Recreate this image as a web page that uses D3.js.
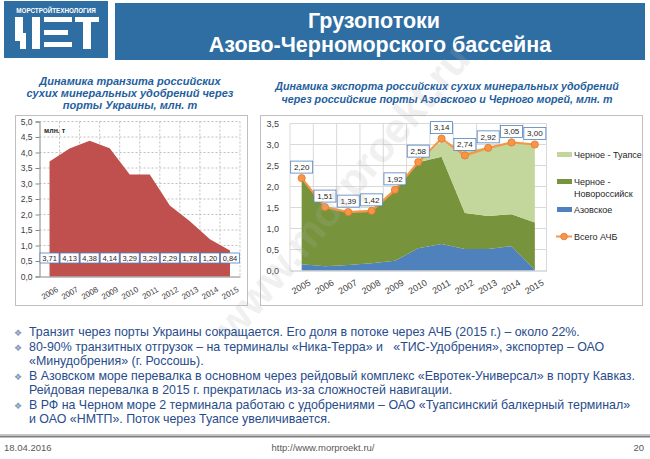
<!DOCTYPE html>
<html>
<head>
<meta charset="utf-8">
<script src="https://cdn.jsdelivr.net/npm/d3@7"></script>
<style>
  body { margin: 0; background: #fff; }
  svg { display: block; font-family: "Liberation Sans", Arial, sans-serif; }
  .tick text { fill: #404040; }
</style>
</head>
<body>
<svg id="slide" width="650" height="459"></svg>
<script>
// left chart: transit through Ukraine
const transitYears = ["2006", "2007", "2008", "2009", "2010", "2011", "2012", "2013", "2014", "2015"];
const transitValues = [3.71, 4.13, 4.38, 4.14, 3.29, 3.29, 2.29, 1.78, 1.20, 0.84];

// right chart: export through Azov / Black sea ports
const exportYears = ["2005", "2006", "2007", "2008", "2009", "2010", "2011", "2012", "2013", "2014", "2015"];
const azovValues = [0.15, 0.10, 0.13, 0.17, 0.23, 0.53, 0.63, 0.51, 0.51, 0.58, 0.02];
const novorossValues = [2.05, 1.41, 1.26, 1.25, 1.69, 2.05, 2.08, 0.86, 0.79, 0.76, 1.12];
const tuapseValues = [0, 0, 0, 0, 0, 0, 0.37, 1.50, 1.62, 1.71, 1.86];
const totalValues = [2.20, 1.51, 1.39, 1.42, 1.92, 2.58, 3.14, 2.74, 2.92, 3.05, 3.00];

const seriesNames = ["Черное - Туапсе", "Черное - Новороссийск", "Азовское", "Всего АЧБ"];
const seriesColors = { azov: "#4f81bd", nov: "#77933c", tuapse: "#c3d69b", total: "#f79646" };

const bullets = [
  ["Транзит через порты Украины сокращается. Его доля в потоке через АЧБ (2015 г.) – около 22%."],
  ["80-90% транзитных отгрузок – на терминалы «Ника-Терра» и   «ТИС-Удобрения», экспортер – ОАО",
   "«Минудобрения» (г. Россошь)."],
  ["В Азовском море перевалка в основном через рейдовый комплекс «Евротек-Универсал» в порту Кавказ.",
   "Рейдовая перевалка в 2015 г. прекратилась из-за сложностей навигации."],
  ["В РФ на Черном море 2 терминала работаю с удобрениями – ОАО «Туапсинский балкерный терминал»",
   "и ОАО «НМТП». Поток через Туапсе увеличивается."]
];

const ru = d3.formatLocale({ decimal: ",", thousands: " ", grouping: [3], currency: ["", ""] });
const f1 = ru.format(".1f");
const f2 = ru.format(".2f");

const svg = d3.select("#slide");

// ---------- header ----------
svg.append("rect").attr("x", 4).attr("y", 1).attr("width", 104).attr("height", 57).attr("fill", "#2f6ea3");
svg.append("text").attr("x", 56).attr("y", 12.5).attr("text-anchor", "middle")
  .attr("fill", "#fff").attr("font-size", 6.3).attr("font-weight", "bold").text("МОРСТРОЙТЕХНОЛОГИЯ");
// stylised logo letters
const logoBars = [[15, 17, 8, 24], [20, 33, 6, 16], [32, 17, 8, 32], [44, 17, 28, 5], [44, 30, 24, 5], [44, 42, 28, 5], [75, 17, 24, 5], [83, 22, 8, 27]];
svg.append("g").selectAll("rect").data(logoBars).join("rect")
  .attr("x", d => d[0]).attr("y", d => d[1]).attr("width", d => d[2]).attr("height", d => d[3])
  .attr("fill", "#fff");

svg.append("rect").attr("x", 115).attr("y", 3).attr("width", 530).attr("height", 57).attr("fill", "#2f6ea3");
svg.append("text").attr("x", 374).attr("y", 28).attr("text-anchor", "middle")
  .attr("fill", "#fff").attr("font-size", 21.5).attr("font-weight", "bold").text("Грузопотоки");
svg.append("text").attr("x", 380).attr("y", 52).attr("text-anchor", "middle")
  .attr("fill", "#fff").attr("font-size", 21.5).attr("font-weight", "bold").text("Азово-Черноморского бассейна");

// ---------- chart titles ----------
const titleColor = "#1f5f9e";
const leftTitle = ["Динамика транзита российских", "сухих минеральных удобрений через", "порты Украины, млн. т"];
svg.append("g").selectAll("text").data(leftTitle).join("text")
  .attr("x", 130).attr("y", (d, i) => 85 + i * 12)
  .attr("text-anchor", "middle").attr("font-size", 11).attr("font-style", "italic").attr("font-weight", "bold")
  .attr("fill", titleColor).text(d => d);

const rightTitle = ["Динамика экспорта российских сухих минеральных удобрений", "через российские порты Азовского и Черного морей, млн. т"];
svg.append("g").selectAll("text").data(rightTitle).join("text")
  .attr("x", 447).attr("y", (d, i) => 90 + i * 13)
  .attr("text-anchor", "middle").attr("font-size", 10.7).attr("font-style", "italic").attr("font-weight", "bold")
  .attr("fill", titleColor).text(d => d);

// ---------- left chart ----------
svg.append("rect").attr("x", 15.5).attr("y", 115.5).attr("width", 232).attr("height", 190)
  .attr("fill", "#fff").attr("stroke", "#bfbfbf");

const xL = d3.scaleBand().domain(transitYears).range([39.5, 240]);
const yL = d3.scaleLinear().domain([0, 5]).range([276.5, 121.5]);
const yTicksL = d3.range(0, 5.01, 0.5);

const gridL = svg.append("g").attr("stroke", "#bfbfbf").attr("stroke-dasharray", "2,2");
gridL.selectAll("line.h").data(yTicksL.slice(1)).join("line").attr("class", "h")
  .attr("x1", 39.5).attr("x2", 240).attr("y1", d => yL(d)).attr("y2", d => yL(d));
gridL.selectAll("line.v").data(transitYears.slice(1).map(d => xL(d)).concat([240])).join("line").attr("class", "v")
  .attr("x1", d => d).attr("x2", d => d).attr("y1", 121.5).attr("y2", 276.5);

const areaL = d3.area()
  .x((d, i) => xL(transitYears[i]) + xL.bandwidth() / 2)
  .y0(yL(0)).y1(d => yL(d));
svg.append("path").datum(transitValues).attr("d", areaL).attr("fill", "#c0504d");

const axisLeftL = svg.append("g").attr("transform", "translate(39.5,0)")
  .call(d3.axisLeft(yL).tickValues(yTicksL).tickFormat(f1).tickSize(4).tickPadding(3));
axisLeftL.selectAll("line, path").attr("stroke", "#868686");
axisLeftL.selectAll("text").attr("font-size", 8.5);

const axisBottomL = svg.append("g").attr("transform", "translate(0,276.5)")
  .call(d3.axisBottom(xL).tickSize(0).tickFormat(d => d));
axisBottomL.select("path").attr("stroke", "#868686");
axisBottomL.selectAll("text")
  .attr("font-size", 8).attr("text-anchor", "end")
  .attr("transform", "translate(5,7) rotate(-30)").attr("dy", "0.7em");

svg.append("text").attr("x", 44).attr("y", 133).attr("font-size", 7).attr("font-weight", "bold")
  .attr("fill", "#262626").text("млн. т");

const labelsL = svg.append("g").selectAll("g").data(transitValues).join("g")
  .attr("transform", (d, i) => `translate(${xL(transitYears[i]) + xL.bandwidth() / 2},258)`);
labelsL.append("rect").attr("x", -9.5).attr("y", -5).attr("width", 19).attr("height", 10)
  .attr("fill", "#fff").attr("stroke", "#4f81bd").attr("stroke-width", 0.8);
labelsL.append("text").attr("text-anchor", "middle").attr("dy", "0.35em")
  .attr("font-size", 7.5).attr("fill", "#262626").text(d => f2(d));

// ---------- right chart ----------
svg.append("rect").attr("x", 260.5).attr("y", 115.5).attr("width", 382).attr("height", 190)
  .attr("fill", "#fff").attr("stroke", "#bfbfbf");

const xR = d3.scaleBand().domain(exportYears).range([290, 546.5]);
const yR = d3.scaleLinear().domain([0, 3.5]).range([270.5, 123.5]);
const yTicksR = d3.range(0, 3.51, 0.5);
const cx = d => xR(d) + xR.bandwidth() / 2;

const gridR = svg.append("g").attr("stroke", "#d9d9d9");
gridR.selectAll("line.h").data(yTicksR.slice(1)).join("line").attr("class", "h")
  .attr("x1", 290).attr("x2", 546.5).attr("y1", d => yR(d)).attr("y2", d => yR(d));
gridR.selectAll("line.v").data(exportYears.map(d => xR(d)).concat([546.5])).join("line").attr("class", "v")
  .attr("x1", d => d).attr("x2", d => d).attr("y1", 123.5).attr("y2", 270.5);

const table = exportYears.map((y, i) => ({ year: y, azov: azovValues[i], nov: novorossValues[i], tuapse: tuapseValues[i] }));
const stacked = d3.stack().keys(["azov", "nov", "tuapse"])(table);
const areaR = d3.area().x(d => cx(d.data.year)).y0(d => yR(d[0])).y1(d => yR(d[1]));
svg.append("g").selectAll("path").data(stacked).join("path")
  .attr("d", areaR).attr("fill", d => seriesColors[d.key]);

const axisLeftR = svg.append("g").attr("transform", "translate(290,0)")
  .call(d3.axisLeft(yR).tickValues(yTicksR).tickFormat(f1).tickSize(0).tickPadding(11));
axisLeftR.select("path").remove();
axisLeftR.selectAll("text").attr("font-size", 9);

const axisBottomR = svg.append("g").attr("transform", "translate(0,270.5)")
  .call(d3.axisBottom(xR).tickSize(0));
axisBottomR.select("path").attr("stroke", "#bfbfbf");
axisBottomR.selectAll("text")
  .attr("font-size", 9).attr("text-anchor", "end")
  .attr("transform", "translate(5,6) rotate(-30)").attr("dy", "0.7em");

const lineR = d3.line().x((d, i) => cx(exportYears[i])).y(d => yR(d));
svg.append("path").datum(totalValues).attr("d", lineR)
  .attr("fill", "none").attr("stroke", seriesColors.total).attr("stroke-width", 2.2);
svg.append("g").selectAll("circle").data(totalValues).join("circle")
  .attr("cx", (d, i) => cx(exportYears[i])).attr("cy", d => yR(d)).attr("r", 3.6)
  .attr("fill", seriesColors.total).attr("stroke", "#e4752c").attr("stroke-width", 0.8);

const labelsR = svg.append("g").selectAll("g").data(totalValues).join("g")
  .attr("transform", (d, i) => `translate(${cx(exportYears[i])},${yR(d) - 11})`);
labelsR.append("rect").attr("x", -11).attr("y", -6).attr("width", 22).attr("height", 12)
  .attr("fill", "#fff").attr("stroke", "#4f81bd").attr("stroke-width", 0.8);
labelsR.append("text").attr("text-anchor", "middle").attr("dy", "0.35em")
  .attr("font-size", 8).attr("fill", "#262626").text(d => f2(d));

// legend
const legend = svg.append("g").attr("font-size", 9).attr("fill", "#262626");
legend.append("rect").attr("x", 557).attr("y", 152).attr("width", 15).attr("height", 5).attr("fill", seriesColors.tuapse);
legend.append("text").attr("x", 574).attr("y", 158).text(seriesNames[0]);
legend.append("rect").attr("x", 557).attr("y", 179).attr("width", 15).attr("height", 5).attr("fill", seriesColors.nov);
legend.append("text").attr("x", 574).attr("y", 185).text("Черное -");
legend.append("text").attr("x", 574).attr("y", 196.5).text("Новороссийск");
legend.append("rect").attr("x", 557).attr("y", 207).attr("width", 15).attr("height", 5).attr("fill", seriesColors.azov);
legend.append("text").attr("x", 574).attr("y", 213).text(seriesNames[2]);
legend.append("line").attr("x1", 556).attr("x2", 572).attr("y1", 236.5).attr("y2", 236.5)
  .attr("stroke", seriesColors.total).attr("stroke-width", 2);
legend.append("circle").attr("cx", 564).attr("cy", 236.5).attr("r", 3.3)
  .attr("fill", seriesColors.total).attr("stroke", "#e4752c").attr("stroke-width", 0.8);
legend.append("text").attr("x", 574).attr("y", 240).text(seriesNames[3]);

// watermark
svg.append("text").attr("transform", "translate(342,192) rotate(-50)")
  .attr("text-anchor", "middle").attr("dy", "0.35em")
  .attr("font-size", 42).attr("font-weight", "bold")
  .attr("fill", "#b0b0b0").attr("opacity", 0.18).text("www.morproekt.ru");

// ---------- bullets ----------
const textColor = "#284b8c";
let lineY = 336;
const bulletG = svg.append("g").attr("font-size", 12.4).attr("fill", textColor);
bullets.forEach(lines => {
  bulletG.append("text").attr("x", 14).attr("y", lineY).attr("font-size", 9)
    .attr("font-family", "DejaVu Sans").attr("fill", "#7f95b8").text("❖");
  lines.forEach(t => {
    bulletG.append("text").attr("x", 29).attr("y", lineY)
      .attr("xml:space", "preserve").style("white-space", "pre").text(t);
    lineY += 14.5;
  });
});

// ---------- footer ----------
svg.append("line").attr("x1", 0).attr("x2", 650).attr("y1", 434.5).attr("y2", 434.5).attr("stroke", "#c8c8c8");
svg.append("line").attr("x1", 0).attr("x2", 650).attr("y1", 436.5).attr("y2", 436.5).attr("stroke", "#808080").attr("stroke-width", 2);
const footer = svg.append("g").attr("font-size", 9.5).attr("fill", "#595959");
footer.append("text").attr("x", 4).attr("y", 451).text("18.04.2016");
footer.append("text").attr("x", 323).attr("y", 451).attr("text-anchor", "middle").text("http://www.morproekt.ru/");
footer.append("text").attr("x", 644).attr("y", 451).attr("text-anchor", "end").text("20");
</script>
</body>
</html>
